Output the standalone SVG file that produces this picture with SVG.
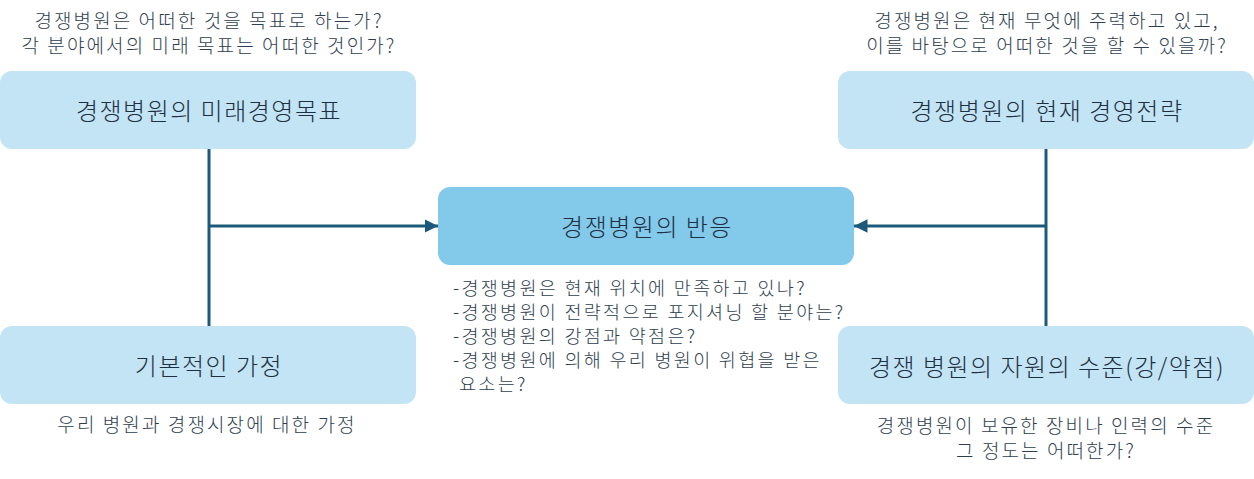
<svg xmlns="http://www.w3.org/2000/svg" width="1254" height="479" viewBox="0 0 1254 479">
<defs>
<marker id="arr" viewBox="0 0 10 10" refX="10" refY="5" markerWidth="4.5" markerHeight="4.5" orient="auto" markerUnits="strokeWidth">
<path d="M0,0 L10,5 L0,10 z" fill="#1C5A7B"/>
</marker>
<style>
.box{fill:#C2E4F4}
.center{fill:#82C9EA}
.t{font-family:"Noto Sans CJK KR","Noto Sans",sans-serif;font-size:24px;letter-spacing:1.5px;fill:#1E2F42;text-anchor:middle;font-weight:300}
.n{font-family:"Noto Sans CJK KR","Noto Sans",sans-serif;font-size:19px;letter-spacing:2.1px;fill:#2E3E50;font-weight:300}
.l{font-size:18.5px;letter-spacing:2.3px}
.m{text-anchor:middle}
.line{stroke:#1C5A7B;stroke-width:3;fill:none}
</style>
</defs>
<g id="connectors">
<line class="line" x1="209" y1="149" x2="209" y2="326"/>
<line class="line" x1="209" y1="226" x2="438" y2="226" marker-end="url(#arr)"/>
<line class="line" x1="1046" y1="149" x2="1046" y2="326"/>
<line class="line" x1="1046" y1="226" x2="854" y2="226" marker-end="url(#arr)"/>
</g>
<g id="goal">
<rect class="box" x="0" y="71" width="416" height="78" rx="12"/>
<text class="t" x="209" y="120">경쟁병원의 미래경영목표</text>
<text class="n m" x="209" y="28">경쟁병원은 어떠한 것을 목표로 하는가?</text>
<text class="n m" x="209" y="53">각 분야에서의 미래 목표는 어떠한 것인가?</text>
</g>
<g id="strategy">
<rect class="box" x="838" y="71" width="416" height="78" rx="12"/>
<text class="t" x="1047" y="120">경쟁병원의 현재 경영전략</text>
<text class="n m" x="1047" y="28">경쟁병원은 현재 무엇에 주력하고 있고,</text>
<text class="n m" x="1047" y="53">이를 바탕으로 어떠한 것을 할 수 있을까?</text>
</g>
<g id="assumption">
<rect class="box" x="0" y="326" width="416" height="78" rx="12"/>
<text class="t" x="209" y="375">기본적인 가정</text>
<text class="n m" x="207" y="432">우리 병원과 경쟁시장에 대한 가정</text>
</g>
<g id="resources">
<rect class="box" x="838" y="326" width="416" height="78" rx="12"/>
<text class="t" x="1047" y="376">경쟁 병원의 자원의 수준(강/약점)</text>
<text class="n m" x="1046" y="433">경쟁병원이 보유한 장비나 인력의 수준</text>
<text class="n m" x="1046" y="458">그 정도는 어떠한가?</text>
</g>
<g id="response">
<rect class="center" x="438" y="187" width="416" height="78" rx="12"/>
<text class="t" x="647" y="236">경쟁병원의 반응</text>
<text class="n l" x="453" y="295">-경쟁병원은 현재 위치에 만족하고 있나?</text>
<text class="n l" x="453" y="319">-경쟁병원이 전략적으로 포지셔닝 할 분야는?</text>
<text class="n l" x="453" y="343">-경쟁병원의 강점과 약점은?</text>
<text class="n l" x="453" y="367">-경쟁병원에 의해 우리 병원이 위협을 받은</text>
<text class="n l" x="459" y="391">요소는?</text>
</g>
</svg>
